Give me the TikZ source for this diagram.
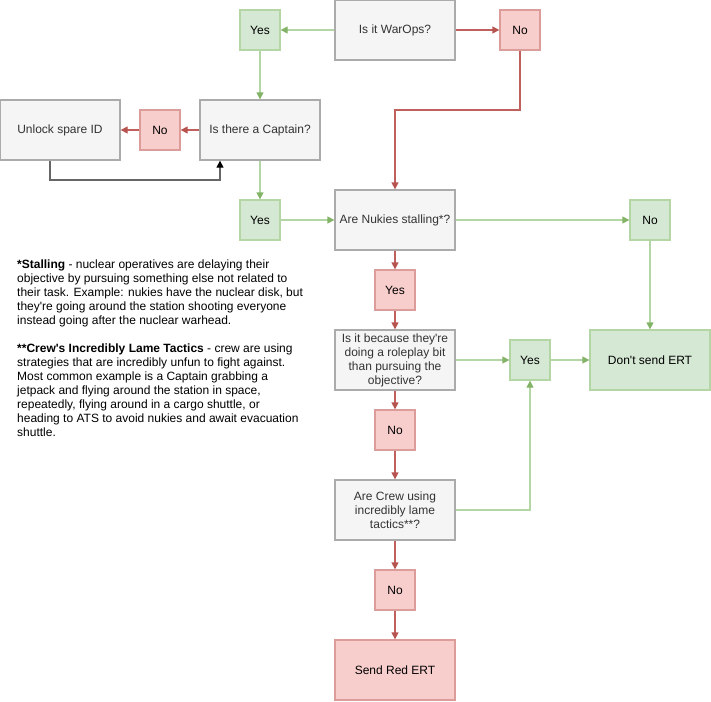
\documentclass[tikz,border=0pt]{standalone}
\usepackage{fontspec}
\setmainfont{Liberation Sans}[Ligatures=TeXOff]
\usetikzlibrary{arrows.meta}
\definecolor{gfill}{HTML}{F5F5F5}
\definecolor{gstroke}{HTML}{ABABAB}
\definecolor{gtext}{HTML}{333333}
\definecolor{grfill}{HTML}{D5E8D4}
\definecolor{grstroke}{HTML}{B4D5A4}
\definecolor{grtip}{HTML}{82B366}
\definecolor{rdfill}{HTML}{F8CECC}
\definecolor{rdstroke}{HTML}{DC9C9A}
\definecolor{rdline}{HTML}{C0605C}
\definecolor{rdtip}{HTML}{B85450}
\definecolor{dkline}{HTML}{666666}
\tikzset{
  base/.style={line width=1.3pt, inner sep=2pt, align=center, font=\fontsize{12}{14}\selectfont},
  qbox/.style={base, draw=gstroke, fill=gfill, text=gtext, minimum width=120pt, minimum height=60pt},
  ybox/.style={base, draw=grstroke, fill=grfill, text=black, minimum width=40pt, minimum height=40pt},
  nbox/.style={base, draw=rdstroke, fill=rdfill, text=black, minimum width=40pt, minimum height=40pt},
  gendbox/.style={base, draw=grstroke, fill=grfill, text=black, minimum width=120pt, minimum height=60pt},
  rendbox/.style={base, draw=rdstroke, fill=rdfill, text=black, minimum width=120pt, minimum height=60pt},
  garrow/.style={draw=grstroke, line width=1.3pt, -{Triangle[length=7pt,width=7pt,color=grtip]}},
  rarrow/.style={draw=rdline, line width=1.3pt, -{Triangle[length=7pt,width=7pt,color=rdtip]}},
  karrow/.style={draw=dkline, line width=1.3pt, -{Triangle[length=7pt,width=7pt,color=black]}},
}
\begin{document}
\begin{tikzpicture}[x=1pt,y=-1pt]
\useasboundingbox (0,0) rectangle (711,701);
\node[qbox] (warops) at (395,30) {Is it WarOps?};
\node[ybox] (yes1) at (260,30) {Yes};
\node[nbox] (no1) at (520,30) {No};
\node[qbox] (captain) at (260,130) {Is there a Captain?};
\node[nbox] (no2) at (160,130) {No};
\node[qbox] (unlock) at (60,130) {Unlock spare ID};
\node[ybox] (yes2) at (260,220) {Yes};
\node[qbox] (nukies) at (395,220) {Are Nukies stalling*?};
\node[ybox] (no3) at (650,220) {No};
\node[nbox] (yes3) at (395,290) {Yes};
\node[qbox] (roleplay) at (395,360) {Is it because they're\\doing a roleplay bit\\than pursuing the\\objective?};
\node[ybox] (yes4) at (530,360) {Yes};
\node[gendbox] (dont) at (650,360) {Don't send ERT};
\node[nbox] (no4) at (395,430) {No};
\node[qbox] (crew) at (395,510) {Are Crew using\\incredibly lame\\tactics**?};
\node[nbox] (no5) at (395,590) {No};
\node[rendbox] (send) at (395,670) {Send Red ERT};

\node[anchor=north west, inner sep=0pt, align=left, font=\fontsize{12}{14}\selectfont] (note) at (17,260) {%
\textbf{*Stalling} - nuclear operatives are delaying their\\
objective by pursuing something else not related to\\
their task. Example: nukies have the nuclear disk, but\\
they're going around the station shooting everyone\\
instead going after the nuclear warhead.\\[14pt]
\textbf{**Crew's Incredibly Lame Tactics} - crew are using\\
strategies that are incredibly unfun to fight against.\\
Most common example is a Captain grabbing a\\
jetpack and flying around the station in space,\\
repeatedly, flying around in a cargo shuttle, or\\
heading to ATS to avoid nukies and await evacuation\\
shuttle.};

\coordinate (c1) at (520,110);
\coordinate (c2) at (395,110);
\coordinate (u1) at (50,180);
\coordinate (u2) at (220,180);
\coordinate (k1) at (530,510);

\draw[garrow] (warops) -- (yes1);
\draw[rarrow] (warops) -- (no1);
\draw[garrow] (yes1) -- (captain);
\draw[rarrow] (no1) -- (c1) -- (c2) -- (nukies);
\draw[rarrow] (captain) -- (no2);
\draw[rarrow] (no2) -- (unlock);
\draw[karrow] (unlock.south -| u1) -- (u1) -- (u2) -- (captain.south -| u2);
\draw[garrow] (captain) -- (yes2);
\draw[garrow] (yes2) -- (nukies);
\draw[garrow] (nukies) -- (no3);
\draw[garrow] (no3) -- (dont);
\draw[rarrow] (nukies) -- (yes3);
\draw[rarrow] (yes3) -- (roleplay);
\draw[garrow] (roleplay) -- (yes4);
\draw[garrow] (yes4) -- (dont);
\draw[rarrow] (roleplay) -- (no4);
\draw[rarrow] (no4) -- (crew);
\draw[garrow] (crew.east) -- (k1) -- (yes4);
\draw[rarrow] (crew) -- (no5);
\draw[rarrow] (no5) -- (send);
\end{tikzpicture}
\end{document}
